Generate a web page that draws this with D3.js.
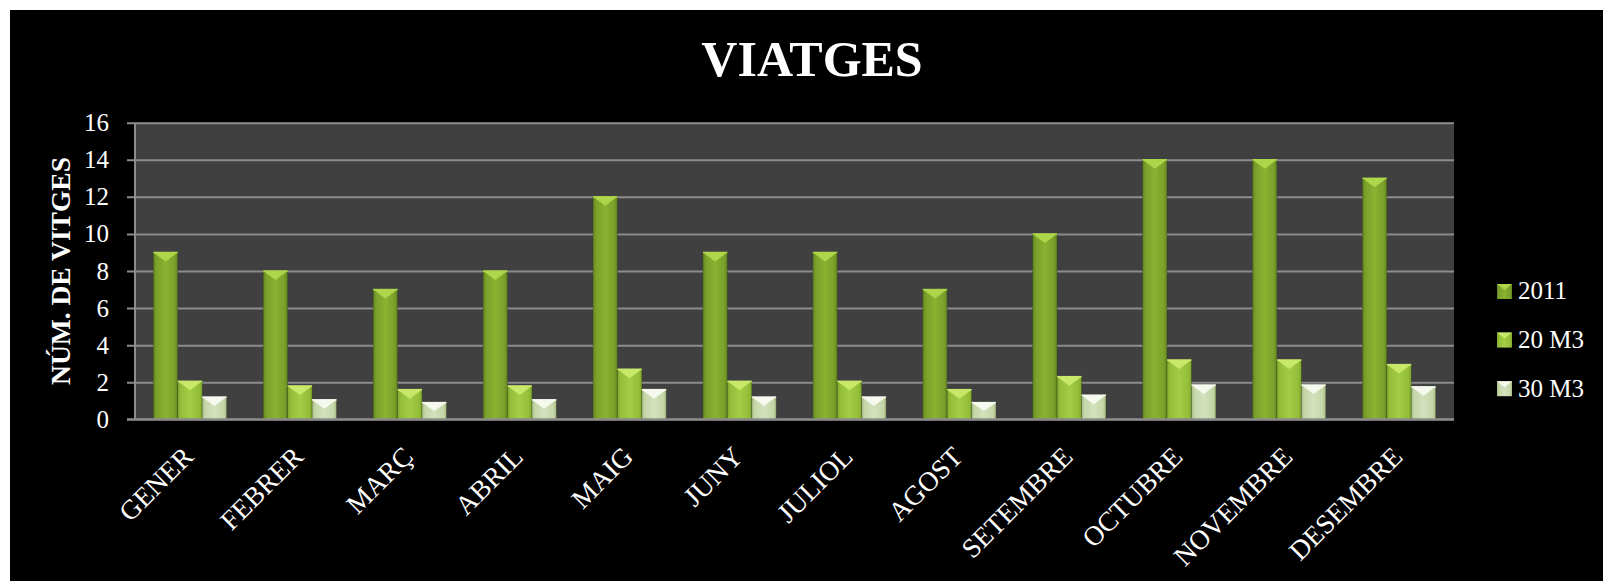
<!DOCTYPE html>
<html>
<head>
<meta charset="utf-8">
<script src="https://cdn.jsdelivr.net/npm/d3@7"></script>
<style>
  html, body { margin: 0; padding: 0; background: #ffffff; }
  svg { display: block; }
  text { font-family: "Liberation Serif", "DejaVu Serif", serif; fill: #ffffff; }
</style>
</head>
<body>
<script>
"use strict";
(function(){
    // chart data
    const months = ["GENER", "FEBRER", "MARÇ", "ABRIL", "MAIG", "JUNY", "JULIOL", "AGOST", "SETEMBRE", "OCTUBRE", "NOVEMBRE", "DESEMBRE"]
    const seriesNames = ["2011", "20 M3", "30 M3"]
    const values2011 = [9, 8, 7, 8, 12, 9, 9, 7, 10, 14, 14, 13]
    const values20 = [2.05, 1.8, 1.6, 1.8, 2.7, 2.05, 2.05, 1.6, 2.3, 3.2, 3.2, 2.95]
    const values30 = [1.2, 1.05, 0.9, 1.05, 1.6, 1.2, 1.2, 0.9, 1.3, 1.85, 1.85, 1.75]
    const yTicks = [0, 2, 4, 6, 8, 10, 12, 14, 16]

    const measurements = {
        width: 1603,
        height: 581,
        plotLeft: 135,
        plotRight: 1454,
        plotTop: 122.7,
        plotBottom: 419.3
    }

    // colours per series: edge, middle, bevel top
    const palette = [
        { edge: "#5f8220", mid: "#8ab232", top: "#aed64a", side: "#7aa02a" },
        { edge: "#7fa82c", mid: "#a3cd44", top: "#c8e86a", side: "#94bd3a" },
        { edge: "#a6ba84", mid: "#d3e1bd", top: "#f6faee", side: "#c5d6a8" }
    ]

    const svg = d3.select("body").append("svg")
        .attr("width", measurements.width)
        .attr("height", measurements.height)

    svg.append("rect")
        .attr("x", 10).attr("y", 10)
        .attr("width", measurements.width - 10)
        .attr("height", measurements.height - 10)
        .attr("fill", "#000000")

    const defs = svg.append("defs")
    palette.forEach((p, i) => {
        const g = defs.append("linearGradient")
            .attr("id", "body" + i)
            .attr("x1", "0").attr("x2", "1").attr("y1", "0").attr("y2", "0")
        g.append("stop").attr("offset", "0").attr("stop-color", p.edge)
        g.append("stop").attr("offset", "0.12").attr("stop-color", p.side)
        g.append("stop").attr("offset", "0.5").attr("stop-color", p.mid)
        g.append("stop").attr("offset", "0.88").attr("stop-color", p.side)
        g.append("stop").attr("offset", "1").attr("stop-color", p.edge)
    })

    const data = months.map((m, i) => ({
        month: m,
        vals: [values2011[i], values20[i], values30[i]]
    }))

    const scaleX = d3.scaleBand()
        .domain(months)
        .range([measurements.plotLeft, measurements.plotRight])
        .paddingInner(0).paddingOuter(0)

    const scaleSeries = d3.scaleBand()
        .domain(d3.range(seriesNames.length))
        .range([0, scaleX.bandwidth()])
        .paddingInner(0).paddingOuter(0.75)

    const scaleY = d3.scaleLinear()
        .domain([0, 16])
        .range([measurements.plotBottom, measurements.plotTop])

    // plot background
    svg.append("rect")
        .attr("x", measurements.plotLeft)
        .attr("y", measurements.plotTop)
        .attr("width", measurements.plotRight - measurements.plotLeft)
        .attr("height", measurements.plotBottom - measurements.plotTop)
        .attr("fill", "#404040")

    // gridlines + y axis
    const yAxis = d3.axisLeft(scaleY)
        .tickValues(yTicks)
        .tickSize(-(measurements.plotRight - measurements.plotLeft))
        .tickPadding(18)
        .tickFormat(d3.format("d"))

    const gy = svg.append("g")
        .attr("transform", `translate(${measurements.plotLeft},0)`)
        .call(yAxis)
    gy.select(".domain").remove()
    gy.selectAll(".tick line")
        .attr("x1", -8)
        .attr("stroke", "#8c8c8c")
        .attr("stroke-width", 2)
    gy.selectAll(".tick text")
        .attr("font-family", "'Liberation Serif', serif")
        .attr("font-size", 25)
        .attr("fill", "#ffffff")
        .attr("x", -26)

    svg.append("line")
        .attr("x1", measurements.plotLeft).attr("x2", measurements.plotLeft)
        .attr("y1", measurements.plotTop).attr("y2", measurements.plotBottom)
        .attr("stroke", "#8c8c8c").attr("stroke-width", 2)

    // bars
    const groups = svg.selectAll(".month")
        .data(data)
        .enter()
        .append("g")
        .attr("transform", d => `translate(${scaleX(d.month)},0)`)

    const bars = groups.selectAll(".bar")
        .data(d => d.vals.map((v, i) => ({ v: v, i: i })))
        .enter()
        .append("g")

    const bw = scaleSeries.bandwidth()
    bars.append("rect")
        .attr("x", d => scaleSeries(d.i))
        .attr("y", d => scaleY(d.v))
        .attr("width", bw)
        .attr("height", d => scaleY(0) - scaleY(d.v))
        .attr("fill", d => "url(#body" + d.i + ")")
        .attr("stroke", "#2a3a10")
        .attr("stroke-opacity", 0.35)
        .attr("stroke-width", 0.8)

    // bevel on top of each bar
    bars.append("path")
        .attr("d", d => {
            const x0 = scaleSeries(d.i), y0 = scaleY(d.v)
            const depth = Math.min(9, (scaleY(0) - y0) / 2)
            return `M${x0},${y0} L${x0 + bw},${y0} L${x0 + bw / 2},${y0 + depth} Z`
        })
        .attr("fill", d => palette[d.i].top)

    bars.append("path")
        .attr("d", d => {
            const x0 = scaleSeries(d.i), y0 = scaleY(d.v)
            return `M${x0},${y0} L${x0 + bw},${y0}`
        })
        .attr("stroke", d => palette[d.i].top)
        .attr("stroke-width", 1.5)

    // x axis line
    svg.append("line")
        .attr("x1", measurements.plotLeft - 8).attr("x2", measurements.plotRight)
        .attr("y1", measurements.plotBottom).attr("y2", measurements.plotBottom)
        .attr("stroke", "#8c8c8c").attr("stroke-width", 2)

    // x labels
    svg.selectAll(".xlabel")
        .data(months)
        .enter()
        .append("text")
        .attr("transform", d => `translate(${scaleX(d) + scaleX.bandwidth() / 2 + 5},${measurements.plotBottom + 39}) rotate(-45)`)
        .attr("text-anchor", "end")
        .attr("font-size", 27.5)
        .text(d => d)

    // title
    svg.append("text")
        .attr("x", 812).attr("y", 76)
        .attr("text-anchor", "middle")
        .attr("font-size", 50)
        .attr("font-weight", "bold")
        .text("VIATGES")

    // y axis title
    svg.append("text")
        .attr("transform", "translate(70,271) rotate(-90)")
        .attr("text-anchor", "middle")
        .attr("font-size", 27.5)
        .attr("font-weight", "bold")
        .text("NÚM. DE VITGES")

    // legend
    const legend = svg.selectAll(".legend")
        .data(seriesNames)
        .enter()
        .append("g")
        .attr("transform", (d, i) => `translate(1497,${284 + i * 48.6})`)

    legend.append("rect")
        .attr("width", 15).attr("height", 15)
        .attr("fill", (d, i) => "url(#body" + i + ")")
    legend.append("path")
        .attr("d", "M0,0 L15,0 L7.5,6 Z")
        .attr("fill", (d, i) => palette[i].top)
    legend.append("text")
        .attr("x", 21).attr("y", 15.3)
        .attr("font-size", 25)
        .text(d => d)
})()
</script>
</body>
</html>
